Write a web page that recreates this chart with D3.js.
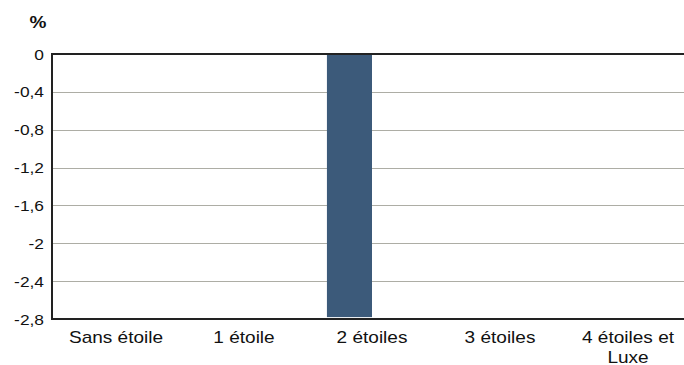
<!DOCTYPE html>
<html>
<head>
<meta charset="utf-8">
<script src="https://cdn.jsdelivr.net/npm/d3@7"></script>
<style>
  body { margin: 0; background: #fff; }
  svg { display: block; font-family: "Liberation Sans", Arial, sans-serif; }
</style>
</head>
<body>
<div id="root"></div>
<script>
"use strict";

var categories = ['Sans étoile', '1 étoile', '2 étoiles', '3 étoiles', '4 étoiles et Luxe'];
var series = ['serie_a', 'serie_b'];
var serie_a = [null, null, -2.78, null, null];
var serie_b = [null, null, null, null, null];
var y_ticks = [0, -0.4, -0.8, -1.2, -1.6, -2, -2.4, -2.8];

var width = 684;
var height = 365;
var margin = { top: 54, left: 52, bottom: 319 };

// the original text looks stretched sideways a bit
var stretch = 1.12;

var svg = d3.select('#root').append('svg')
    .attr('width', width)
    .attr('height', height);

// plot runs past the right edge in the original, it is just cut off
var x0 = d3.scaleBand().domain(categories).range([margin.left, margin.left + 5 * 128]);
var x1 = d3.scaleBand().domain(series).range([0, x0.bandwidth()]).paddingOuter(0.42);
var y = d3.scaleLinear().domain([0, -2.8]).range([margin.top, margin.bottom]);

var fmt = function(d) { return String(d).replace('.', ','); };

// grid
svg.append('g').selectAll('line')
    .data(y_ticks.filter(function(d) { return d !== 0 && d !== -2.8; }))
    .enter().append('line')
    .attr('x1', margin.left).attr('x2', width)
    .attr('y1', function(d) { return Math.round(y(d)) + 0.5; })
    .attr('y2', function(d) { return Math.round(y(d)) + 0.5; })
    .attr('stroke', '#adada5')
    .attr('stroke-width', 1);

// bars
var rows = categories.map(function(c, i) {
    return { cat: c, values: [ { s: 'serie_a', v: serie_a[i] }, { s: 'serie_b', v: serie_b[i] } ] };
});

svg.append('g').selectAll('g')
    .data(rows)
    .enter().append('g')
    .attr('transform', function(d) { return 'translate(' + x0(d.cat) + ',0)'; })
    .selectAll('rect')
    .data(function(d) { return d.values.filter(function(v) { return v.v !== null; }); })
    .enter().append('rect')
    .attr('x', function(d) { return x1(d.s); })
    .attr('width', x1.bandwidth())
    .attr('y', y(0))
    .attr('height', function(d) { return y(d.v) - y(0); })
    .attr('fill', '#3c5a7a');

// axes lines
svg.append('line')
    .attr('x1', margin.left).attr('x2', width)
    .attr('y1', y(0)).attr('y2', y(0))
    .attr('stroke', '#222').attr('stroke-width', 2);
svg.append('line')
    .attr('x1', margin.left).attr('x2', width)
    .attr('y1', y(-2.8)).attr('y2', y(-2.8))
    .attr('stroke', '#222').attr('stroke-width', 2);
svg.append('line')
    .attr('x1', margin.left).attr('x2', margin.left)
    .attr('y1', y(0) - 1).attr('y2', y(-2.8) + 1)
    .attr('stroke', '#222').attr('stroke-width', 2);

// y tick labels
svg.append('g').selectAll('g')
    .data(y_ticks)
    .enter().append('g')
    .attr('transform', function(d) { return 'translate(' + (margin.left - 8) + ',' + y(d) + ') scale(' + stretch + ',1)'; })
    .append('text')
    .attr('dy', '0.36em')
    .attr('text-anchor', 'end')
    .attr('font-size', 15.5)
    .attr('fill', '#111')
    .text(fmt);

svg.append('g')
    .attr('transform', 'translate(38,28) scale(' + stretch + ',1)')
    .append('text')
    .attr('text-anchor', 'middle')
    .attr('font-size', 17)
    .attr('font-weight', 'bold')
    .attr('fill', '#111')
    .text('%');

// x labels, wrapped
var x_labels = svg.append('g').selectAll('g')
    .data(categories)
    .enter().append('g')
    .attr('transform', function(d) { return 'translate(' + (x0(d) + x0.bandwidth() / 2) + ',343) scale(' + stretch + ',1)'; })
    .append('text')
    .attr('text-anchor', 'middle')
    .attr('font-size', 17)
    .attr('fill', '#111');

x_labels.each(function(d) {
    var lines = d === '4 étoiles et Luxe' ? ['4 étoiles et', 'Luxe'] : [d];
    var t = d3.select(this);
    lines.forEach(function(l, i) {
        t.append('tspan')
            .attr('x', 0)
            .attr('dy', i === 0 ? 0 : 20)
            .text(l);
    });
});
</script>
</body>
</html>
